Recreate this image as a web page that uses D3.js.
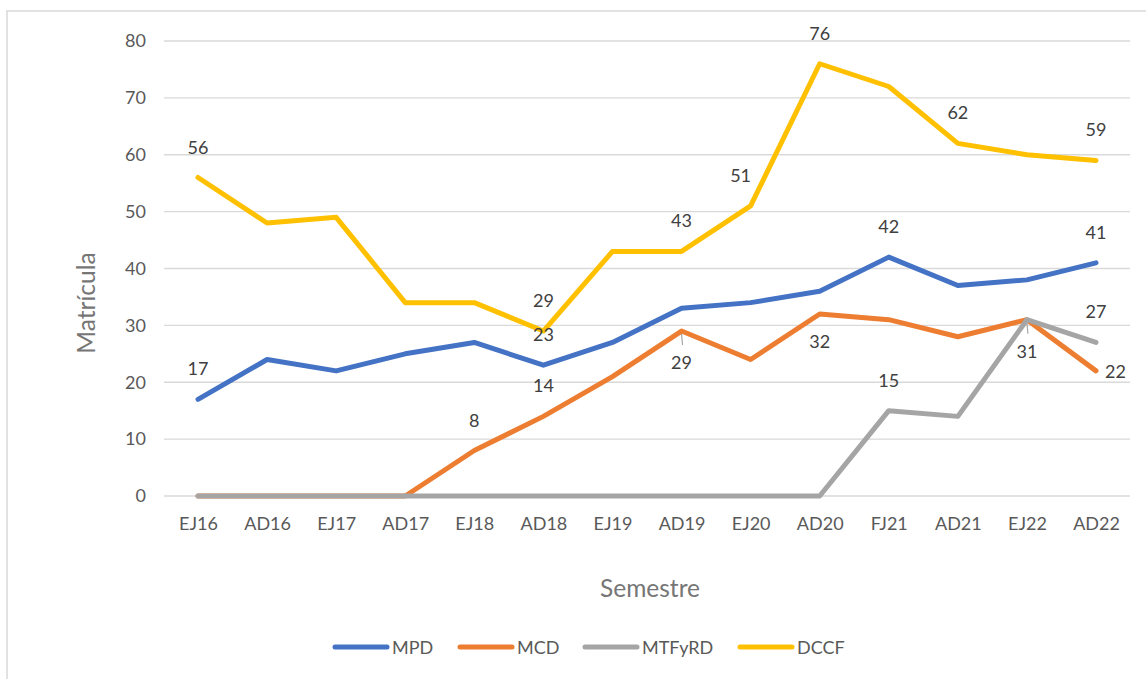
<!DOCTYPE html>
<html><head><meta charset="utf-8">
<script src="https://cdn.jsdelivr.net/npm/d3@7"></script>
<style>body{margin:0;background:#fff}svg{display:block}</style>
</head><body>
<script>
const categories = ["EJ16","AD16","EJ17","AD17","EJ18","AD18","EJ19","AD19","EJ20","AD20","FJ21","AD21","EJ22","AD22"];
const seriesNames = ["MPD","MCD","MTFyRD","DCCF"];
const mpd    = [17,24,22,25,27,23,27,33,34,36,42,37,38,41];
const mcd    = [0,0,0,0,8,14,21,29,24,32,31,28,31,22];
const mtfyrd = [0,0,0,0,0,0,0,0,0,0,15,14,31,27];
const dccf   = [56,48,49,34,34,29,43,43,51,76,72,62,60,59];
const yTicks = [0,10,20,30,40,50,60,70,80];
const colors = ["#4472C4","#ED7D31","#A5A5A5","#FFC000"];
// data labels: [series index, category index, placement]
const dataLabels = [
  [3,0,"above"],[0,0,"above"],[1,4,"above"],[3,5,"above"],[0,5,"above"],[1,5,"above"],
  [3,7,"above"],[1,7,"belowLeader"],[3,8,"aboveLeft"],[3,9,"above"],[1,9,"below"],
  [0,10,"above"],[2,10,"above"],[3,11,"above"],[2,12,"belowLeader"],
  [3,13,"above"],[0,13,"above"],[2,13,"above"],[1,13,"right"]
];
const allSeries = [mpd, mcd, mtfyrd, dccf];

const W = 1146, H = 679;
const svg = d3.select("body").append("svg").attr("width", W).attr("height", H);
const font = "Lato, 'Open Sans', sans-serif";

svg.append("rect").attr("x",7).attr("y",11).attr("width",W+20).attr("height",H+20)
  .attr("fill","none").attr("stroke","#d9d9d9").attr("stroke-width",1.5);

const x = d3.scalePoint().domain(categories).range([198, 1096]);
const y = d3.scaleLinear().domain([0,80]).range([496, 41]);

// gridlines
svg.append("g").selectAll("line").data(yTicks).join("line")
  .attr("x1",164).attr("x2",1130).attr("y1",d=>y(d)).attr("y2",d=>y(d))
  .attr("stroke","#d9d9d9").attr("stroke-width",1.3);

// y axis labels
const yAxis = svg.append("g").attr("transform","translate(146,0)")
  .call(d3.axisLeft(y).tickValues(yTicks).tickSize(0).tickPadding(0));
yAxis.select(".domain").remove();
yAxis.selectAll("text").attr("font-family",font).attr("font-size",18).attr("fill","#595959");

// x axis labels
const xAxis = svg.append("g").attr("transform","translate(0,517)")
  .call(d3.axisBottom(x).tickSize(0).tickPadding(0));
xAxis.select(".domain").remove();
xAxis.selectAll("text").attr("font-family",font).attr("font-size",18).attr("fill","#595959");

// titles
svg.append("text").attr("x",650).attr("y",597).attr("text-anchor","middle")
  .attr("font-family",font).attr("font-size",24.5).attr("fill","#767676").text("Semestre");
svg.append("text").attr("transform","translate(95,303) rotate(-90)").attr("text-anchor","middle")
  .attr("font-family",font).attr("font-size",24.5).attr("fill","#767676").text("Matrícula");

// lines
const line = d3.line().x((d,i)=>x(categories[i])).y(d=>y(d));
allSeries.forEach((s,k)=>{
  svg.append("path").datum(s).attr("d",line).attr("fill","none")
    .attr("stroke",colors[k]).attr("stroke-width",5)
    .attr("stroke-linejoin","round").attr("stroke-linecap","round");
});

// data labels
const lg = svg.append("g");
dataLabels.forEach(([si,ci,pos])=>{
  const v = allSeries[si][ci];
  const px = x(categories[ci]), py = y(v);
  let tx = px, ty = py - 24, anchor = "middle";
  if (pos==="below") { ty = py + 34; }
  if (pos==="belowLeader") {
    ty = py + 38;
    lg.append("line").attr("x1",px).attr("x2",px+1).attr("y1",py+3).attr("y2",py+14)
      .attr("stroke","#a5a5a5").attr("stroke-width",1.2);
  }
  if (pos==="aboveLeft") { tx = px - 10; }
  if (pos==="right") { tx = px + 9; ty = py + 7; anchor = "start"; }
  lg.append("text").attr("x",tx).attr("y",ty).attr("text-anchor",anchor)
    .attr("font-family",font).attr("font-size",18).attr("fill","#404040").text(v);
});

// legend
const legendX = [333, 458, 583, 738];
const lgd = svg.append("g");
seriesNames.forEach((n,k)=>{
  const g = lgd.append("g").attr("transform",`translate(${legendX[k]},647)`);
  g.append("line").attr("x1",2).attr("x2",54).attr("y1",0).attr("y2",0)
    .attr("stroke",colors[k]).attr("stroke-width",5).attr("stroke-linecap","round");
  g.append("text").attr("x",59).attr("y",6.5).attr("font-family",font).attr("font-size",18)
    .attr("fill","#595959").text(n);
});
</script>
</body></html>
